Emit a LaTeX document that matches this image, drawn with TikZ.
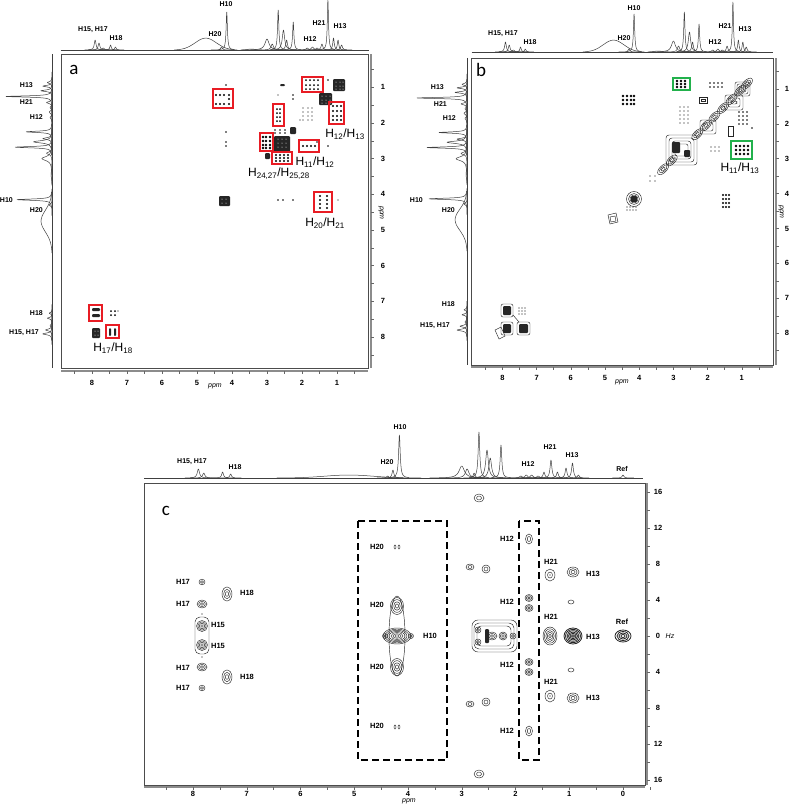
\documentclass[tikz,border=0pt]{standalone}
\usepackage{fontspec}
\setmainfont{Liberation Sans}
\newfontfamily\letterfont{Carlito}
\definecolor{boxred}{RGB}{232,28,36}
\definecolor{boxgreen}{RGB}{34,177,76}
\newcommand{\rings}[5]{\foreach \k in {1,...,#5}{\draw[cont] (#1,#2) ellipse ({#3*\k/#5} and {#4*\k/#5});}}
\newcommand{\dg}[3]{\foreach \xx in {#1}{\foreach \yy in {#2}{\fill (\xx,\yy) circle (#3);}}}
\newcommand{\wg}[3]{\foreach \xx in {#1}{\foreach \yy in {#2}{\fill[white] (\xx,\yy) circle (#3);}}}
\newcommand{\drings}[5]{\foreach \k in {1,...,#5}{\draw[cont,rotate around={45:(#1,#2)}] (#1,#2) ellipse ({#3*\k/#5} and {#4*\k/#5});}}
% one Lorentzian line, pointing up: x-centre, baseline y, half width (px), height (px)
\newcommand{\pkT}[4]{\draw[spec,shift={(#1,#2)},xscale=#3,yscale=-#4] plot[smooth,tension=0.4] coordinates {(-10,0.0099)(-6,0.027)(-4,0.0588)(-3,0.1)(-2.5,0.1379)(-2,0.2)(-1.5,0.3077)(-1.2,0.4098)(-1,0.5)(-0.8,0.6098)(-0.6,0.7353)(-0.4,0.8621)(-0.2,0.9615)(0,1)(0.2,0.9615)(0.4,0.8621)(0.6,0.7353)(0.8,0.6098)(1,0.5)(1.2,0.4098)(1.5,0.3077)(2,0.2)(2.5,0.1379)(3,0.1)(4,0.0588)(6,0.027)(10,0.0099)};}
% one Lorentzian line, pointing left: y-centre, baseline x, half width, height
\newcommand{\pkL}[4]{\draw[spec,shift={(#2,#1)},yscale=#3,xscale=-#4] plot[smooth,tension=0.4] coordinates {(0.0099,-10)(0.027,-6)(0.0588,-4)(0.1,-3)(0.1379,-2.5)(0.2,-2)(0.3077,-1.5)(0.4098,-1.2)(0.5,-1)(0.6098,-0.8)(0.7353,-0.6)(0.8621,-0.4)(0.9615,-0.2)(1,0)(0.9615,0.2)(0.8621,0.4)(0.7353,0.6)(0.6098,0.8)(0.5,1)(0.4098,1.2)(0.3077,1.5)(0.2,2)(0.1379,2.5)(0.1,3)(0.0588,4)(0.027,6)(0.0099,10)};}
\newcommand{\bellT}[4]{\draw[spec,shift={(#1,#2)},xscale=#3,yscale=-#4] plot[smooth] coordinates {(-3,0)(-2.5,0.044)(-2,0.135)(-1.5,0.325)(-1,0.607)(-0.5,0.882)(0,1)(0.5,0.882)(1,0.607)(1.5,0.325)(2,0.135)(2.5,0.044)(3,0)};}
\newcommand{\bellL}[4]{\draw[spec,shift={(#2,#1)},yscale=#3,xscale=-#4] plot[smooth] coordinates {(0,-3)(0.044,-2.5)(0.135,-2)(0.325,-1.5)(0.607,-1)(0.882,-0.5)(1,0)(0.882,0.5)(0.607,1)(0.325,1.5)(0.135,2)(0.044,2.5)(0,3)};}
\newcommand{\ablist}{7.91/10/0.03,7.80/7/0.03,7.68/2/0.04,7.47/5/0.025,7.33/3/0.025,4.30/3/0.03,4.15/38/0.022,3.0/11/0.07,2.85/6/0.04,2.68/40/0.022,2.53/20/0.04,2.44/10/0.03,2.25/28/0.022,1.85/2/0.04,1.70/3/0.04,1.57/2/0.04,1.43/6/0.03,1.26/50/0.02,1.10/12/0.025,0.97/10/0.025,0.87/5/0.03}
\newcommand{\specT}[5]{\draw[spec] ({#1-#2*#4},#3) -- ({#1-#2*#5},#3);
 \foreach \p/\h/\w in \ablist {\pkT{#1-#2*\p}{#3}{#2*\w}{\h}}
 \bellT{#1-#2*4.75}{#3}{#2*0.3}{12}
 \bellT{#1-#2*3.45}{#3}{#2*0.1}{1}}
\newcommand{\specL}[6]{\draw[spec] (#3,{#1+#2*#4}) -- (#3,{#1+#2*#5});
 \foreach \p/\h/\w in \ablist {\pkL{#1+#2*\p}{#3}{#2*\w}{#6*\h}}
 \bellL{#1+#2*4.75}{#3}{#2*0.3}{#6*12}
 \bellL{#1+#2*3.45}{#3}{#2*0.1}{#6*1}}
\begin{document}
\begin{tikzpicture}[x=1pt,y=-1pt,
 lab/.style={font=\bfseries\fontsize{7}{8}\selectfont, inner sep=0pt},
 clab/.style={font=\bfseries\fontsize{7.5}{9}\selectfont, inner sep=0pt},
 big/.style={font=\fontsize{12}{14}\selectfont, inner sep=0pt},
 tick/.style={font=\bfseries\fontsize{7.5}{9}\selectfont, inner sep=0pt},
 axlab/.style={font=\itshape\fontsize{7}{8}\selectfont, inner sep=0pt},
 letter/.style={font=\letterfont\fontsize{19}{22}\selectfont, inner sep=0pt},
 frame/.style={draw=black!70, line width=0.7pt},
 axis/.style={draw=black!45, line width=1.2pt},
 tk/.style={draw=black!60, line width=0.5pt},
 spec/.style={draw=black!75, line width=0.5pt, line join=round},
 cont/.style={draw=black!85, line width=0.45pt},
 redbox/.style={draw=boxred, line width=1.4pt},
 greenbox/.style={draw=boxgreen, line width=1.4pt},
 dbox/.style={draw=black, line width=1.4pt, dash pattern=on 7pt off 4pt},
 blob/.style={fill=black!85, rounded corners=1pt}
]
\fill[white] (0,0) rectangle (790,804);
\useasboundingbox (0,0) rectangle (790,804);

%%%%%%%%%%%%%%%% PANEL A %%%%%%%%%%%%%%%%
\draw[frame] (61,54) rectangle (368,368);
\draw[axis] (371,54) -- (371,368);
\draw[axis] (61,371) -- (368,371);
\foreach \k in {1,...,17}{\draw[tk] (371,{51.5+35.7*\k/2}) -- (374,{51.5+35.7*\k/2});}
\foreach \k in {1,...,17}{\draw[tk] ({372-35*\k/2},371) -- ({372-35*\k/2},374);}
\foreach \k in {1,...,8}{\node[tick] (ar\k) at (383,{51.5+35.7*\k}) {\k};}
\foreach \k in {1,...,8}{\node[tick] (ab\k) at ({372-35*\k},383) {\k};}
\node[axlab] (appmx) at (215,386) {ppm};
\node[axlab, rotate=-90] (appmy) at (381,213) {ppm};
\specT{372}{35}{50}{8.9}{0.1}
\specL{51.5}{35.7}{52}{0.07}{8.87}{0.92}
\node[letter] (la) at (74,70) {a};
\node[lab] (aT1) at (93,30) {H15, H17};
\node[lab] (aT2) at (116,38) {H18};
\node[lab] (aT3) at (215,34) {H20};
\node[lab] (aT4) at (226,4) {H10};
\node[lab] (aT5) at (310,39) {H12};
\node[lab] (aT6) at (319,23) {H21};
\node[lab] (aT7) at (340,26) {H13};
\node[lab, anchor=east] (aL1) at (33,85) {H13};
\node[lab, anchor=east] (aL2) at (33,102) {H21};
\node[lab, anchor=east] (aL3) at (43,117) {H12};
\node[lab, anchor=east] (aL4) at (13,200) {H10};
\node[lab, anchor=east] (aL5) at (43,210) {H20};
\node[lab, anchor=east] (aL6) at (43,313) {H18};
\node[lab, anchor=east] (aL7) at (39,333) {H15, H17};
% cross peaks a
\fill[blob] (333,79) rectangle (345,91);
\fill[blob] (319,93) rectangle (332,105);
\fill[blob] (274,136) rectangle (290,152);
\fill[blob] (290,127) rectangle (296,134);
\fill[blob] (219,196) rectangle (230,206);
\fill[blob] (92,328) rectangle (100,338);
\fill[blob] (265,153) rectangle (270,159);
\fill[blob] (280,84) rectangle (285,86);
\wg{336,340,343}{82,86,89}{0.5}
\wg{322,326,330}{96,100,103}{0.5}
\wg{278,282,286}{139,143,147}{0.5}
\wg{222,226}{199,203}{0.5}
\wg{95,98}{331,335}{0.5}
\dg{216,220,224,229}{95,104}{1.1}
\dg{229}{99}{1.1}
\dg{306,310,314,318}{80,85,89}{1.0}
\dg{333,337,341}{106,111,116,120}{1.1}
\dg{277,280}{109,113,117,121}{1.0}
\dg{263,266,270}{137,141,145,148}{1.3}
\dg{303,307,311,315}{146}{1.1}
\dg{317}{142}{0.8}
\dg{276,280,284,288}{155,158,161}{1.2}
\dg{320,327}{196,200,204,208}{1.2}
\dg{226}{85,132,142,146}{0.9}
\dg{293}{95,99}{0.9}
\dg{278}{95}{0.7}
\dg{278,283,293}{200}{0.9}
\dg{328}{80,146}{0.8}
\dg{338}{200}{0.7}
\dg{303,308,312}{108,112,116,120}{0.6}
\dg{300}{120}{0.7}
\dg{275,280,285}{130,133}{0.8}
\fill[blob] (92,308) rectangle (100,311);
\fill[blob] (92,314) rectangle (100,317);
\fill[blob] (109,328) rectangle (111,336);
\fill[blob] (114,328) rectangle (116,336);
\dg{111,115}{311,315}{1.0}
\dg{118}{311}{0.7}
% red boxes
\draw[redbox] (213,89) rectangle (233,108);
\draw[redbox] (302,77) rectangle (323,92);
\draw[redbox] (329,102) rectangle (344,124);
\draw[redbox] (273,104) rectangle (284,126);
\draw[redbox] (260,133) rectangle (273,151);
\draw[redbox] (299,140) rectangle (319,152);
\draw[redbox] (272,152) rectangle (292,164);
\draw[redbox] (314,192) rectangle (332,212);
\draw[redbox] (89,305) rectangle (102,321);
\draw[redbox] (106,325) rectangle (119,338);
\node[big] (bl1) at (345,134) {H\textsubscript{12}/H\textsubscript{13}};
\node[big] (bl2) at (315,162) {H\textsubscript{11}/H\textsubscript{12}};
\node[big] (bl3) at (279,174) {H\textsubscript{24,27}/H\textsubscript{25,28}};
\node[big] (bl4) at (325,223) {H\textsubscript{20}/H\textsubscript{21}};
\node[big] (bl5) at (113,348) {H\textsubscript{17}/H\textsubscript{18}};

%%%%%%%%%%%%%%%% PANEL B %%%%%%%%%%%%%%%%
\draw[frame] (471,58) rectangle (773,365);
\draw[axis] (776,58) -- (776,365);
\draw[axis] (471,367) -- (773,367);
\foreach \k in {1,...,17}{\draw[tk] (776,{54+34.9*\k/2}) -- (779,{54+34.9*\k/2});}
\foreach \k in {1,...,17}{\draw[tk] ({776-34.2*\k/2},367) -- ({776-34.2*\k/2},370);}
\foreach \k in {1,...,8}{\node[tick] (br\k) at (787,{54+34.9*\k}) {\k};}
\foreach \k in {1,...,8}{\node[tick] (bb\k) at ({776-34.2*\k},378) {\k};}
\node[axlab] (bppmx) at (622,382) {ppm};
\node[axlab, rotate=-90] (bppmy) at (781,212) {ppm};
\specT{776}{34.2}{52}{8.9}{0.1}
\specL{54}{34.9}{467}{0.11}{8.9}{1}
\node[letter] (lb) at (481,70) {b};
\node[lab] (bT1) at (503,34) {H15, H17};
\node[lab] (bT2) at (530,42) {H18};
\node[lab] (bT3) at (624,38) {H20};
\node[lab] (bT4) at (634,8) {H10};
\node[lab] (bT5) at (715,42) {H12};
\node[lab] (bT6) at (725,26) {H21};
\node[lab] (bT7) at (745,29) {H13};
\node[lab, anchor=east] (bL1) at (444,87) {H13};
\node[lab, anchor=east] (bL2) at (447,104) {H21};
\node[lab, anchor=east] (bL3) at (456,118) {H12};
\node[lab, anchor=east] (bL4) at (423,200) {H10};
\node[lab, anchor=east] (bL5) at (455,210) {H20};
\node[lab, anchor=east] (bL6) at (455,304) {H18};
\node[lab, anchor=east] (bL7) at (450,326) {H15, H17};
% diagonal contours b
\draw[cont] (608,215)--(616,213)--(618,222)--(610,224)--cycle;
\draw[cont] (610,217)--(615,216)--(616,221)--(611,222)--cycle;
\foreach \r in {2.5,4,5.5,7.5}{\draw[cont] (634,199) circle (\r);}
\fill[blob] (631,196) rectangle (637,202);
\dg{627,630,633,636}{207,210}{0.7}
\dg{650,655}{181,176}{0.7}
\foreach \p in {3.3,3.05,2.3,2.05,1.8,1.55,1.3,1.05,0.85}{\drings{776-34.2*\p}{54+34.9*\p}{7}{3.5}{3}}
\draw[cont, rounded corners=3pt] (666,135) rectangle (697,165);
\draw[cont, rounded corners=3pt] (669,138) rectangle (694,162);
\draw[cont, rounded corners=3pt] (672,141) rectangle (691,159);
\draw[cont, rounded corners=2pt] (675,144) rectangle (688,156);
\fill[blob] (672,142) rectangle (680,153);
\fill[blob] (684,150) rectangle (690,157);
\draw[cont, rounded corners=2pt] (700,120) rectangle (716,134);
\draw[cont, rounded corners=2pt] (703,123) rectangle (713,131);
\draw[cont, rounded corners=2pt] (735,82) rectangle (750,96);
\draw[cont, rounded corners=2pt] (737,84) rectangle (748,94);
\draw[cont, rounded corners=2pt] (739,86) rectangle (746,92);
\draw[cont, rounded corners=2pt] (725,95) rectangle (743,110);
\draw[cont, rounded corners=2pt] (728,98) rectangle (740,107);
\draw[cont, rounded corners=2pt] (731,101) rectangle (737,104);
\draw[cont] (699,97) rectangle (707,103);
\draw[cont] (701,99) rectangle (705,101);
\draw[cont] (728,126) rectangle (733,136);
\dg{623,627,631,634}{96,100,104}{1.3}
\dg{677,681,685}{81,84,87}{1.3}
\dg{736,740,744,748}{146,150,154}{1.3}
\dg{723,726,729}{195,199,203,207}{1.2}
\dg{711,715,719}{147,151}{0.7}
\dg{710,714,718,722}{83,87}{0.8}
\dg{680,684,688}{107,111,115,119,123}{0.7}
\dg{739,743,747}{112,116,120,124}{0.8}
\dg{690}{84}{0.7}
\dg{752}{128}{0.9}
\draw[cont, rounded corners=2pt] (501,304) rectangle (513,317);
\fill[blob] (503,306) rectangle (511,315);
\draw[cont, rounded corners=2pt] (501,322) rectangle (513,335);
\fill[blob] (503,324) rectangle (511,333);
\draw[cont, rounded corners=2pt] (517,322) rectangle (530,335);
\fill[blob] (519,324) rectangle (528,333);
\draw[cont] (495,330) -- (501,327) -- (505,336) -- (499,339) -- cycle;
\draw[cont] (513,315) -- (519,322);
\dg{519,522,525}{308,311,314}{0.7}
\draw[greenbox] (673,78) rectangle (690,90);
\draw[greenbox] (731,141) rectangle (752,159);
\node[big] (bl6) at (740,168) {H\textsubscript{11}/H\textsubscript{13}};

%%%%%%%%%%%%%%%% PANEL C %%%%%%%%%%%%%%%%
\draw[frame] (144,483) rectangle (645,785);
\draw[axis] (647,483) -- (647,785);
\draw[axis] (144,787) -- (645,787);
\foreach \v in {-16,-14,...,16}{\draw[tk] (647,{636-9*\v}) -- (650,{636-9*\v});}
\foreach \k in {-0.5,0,0.5,...,8.5}{\draw[tk] ({623-53.75*\k},787) -- ({623-53.75*\k},790);}
\foreach \v/\t in {16/16,12/12,8/8,4/4,0/0,-4/4,-8/8,-12/12,-16/16}{\node[tick] (cr\v) at (658,{636-9*\v}) {\t};}
\foreach \k in {0,...,8}{\node[tick] (cb\k) at ({623-53.75*\k},794) {\k};}
\node[axlab] (cppmx) at (409,801) {ppm};
\node[axlab] (chz) at (670,636) {Hz};
\draw[spec] (144,478) -- (643,478);
\foreach \p/\h/\w in {7.90/9/0.025,7.80/5/0.025,7.45/6/0.02,7.30/4/0.02,4.38/2/0.02,4.28/8/0.02,4.16/43/0.018,3.0/12/0.06,2.90/9/0.04,2.77/5/0.02,2.68/46/0.018,2.53/28/0.03,2.47/20/0.03,2.27/33/0.018,1.90/2/0.03,1.80/3/0.03,1.70/3/0.03,1.58/2/0.03,1.47/6/0.02,1.34/18/0.02,1.22/6/0.02,1.06/10/0.02,0.94/15/0.02,0.83/3/0.02,0.0/3/0.02}{\pkT{623-53.75*\p}{478}{53.75*\w}{\h}}
\bellT{623-53.75*5.1}{478}{53.75*0.45}{3}
\node[letter] (lc) at (166,511) {c};
\node[lab] (cT1) at (192,462) {H15, H17};
\node[lab] (cT2) at (235,467) {H18};
\node[lab] (cT3) at (387,462) {H20};
\node[lab] (cT4) at (400,427) {H10};
\node[lab] (cT5) at (528,464) {H12};
\node[lab] (cT6) at (550,447) {H21};
\node[lab] (cT7) at (572,455) {H13};
\node[lab] (cT8) at (622,469) {Ref};
\draw[dbox] (358,521) rectangle (447,760);
\draw[dbox] (519,521) rectangle (539,760);
\rings{202}{582}{3}{2.8}{2}
\rings{202}{604}{5}{4}{3}
\rings{202}{626}{5.5}{5.5}{4}
\rings{202}{645}{5.5}{5.5}{4}
\draw[cont, rounded corners=5pt] (195,617) rectangle (209,654);
\rings{202}{667}{5}{4}{3}
\rings{202}{688}{3}{2.8}{2}
\fill (202,614) circle (0.6);
\fill (202,657) circle (0.6);
\rings{227}{594}{5}{7}{3}
\rings{227}{677}{5}{7}{3}
\draw[cont] (395,547) ellipse (1 and 2);
\draw[cont] (399,547) ellipse (1 and 2);
\draw[cont] (395,727) ellipse (1 and 2);
\draw[cont] (399,727) ellipse (1 and 2);
\draw[cont] (397,636) ellipse (8 and 40);
\rings{397}{606}{6.5}{8.5}{4}
\rings{397}{667}{6.5}{8.5}{4}
\rings{397}{636}{14}{8}{7}
\rings{385}{636}{2.5}{2.5}{2}
\rings{411}{636}{2.5}{2.5}{2}
\rings{479}{498}{5}{4}{2}
\rings{479}{774}{5}{4}{2}
\rings{470}{567}{4}{3}{2}
\rings{486}{569}{4}{4}{2}
\rings{470}{704}{4}{3}{2}
\rings{486}{702}{4}{4}{2}
\draw[cont, rounded corners=6pt] (472,620) rectangle (517,652);
\draw[cont, rounded corners=5pt] (474,623) rectangle (514,649);
\draw[cont, rounded corners=4pt] (477,626) rectangle (511,646);
\rings{478}{630}{3}{3}{2}
\rings{478}{642}{3}{3}{2}
\rings{492}{636}{5}{4}{3}
\rings{503}{636}{4}{4}{3}
\rings{513}{636}{3}{3}{2}
\fill[blob] (485,629) rectangle (489,643);
\rings{529}{539}{3.5}{5}{2}
\rings{529}{598}{4}{3.5}{3}
\rings{529}{608}{4}{3.5}{3}
\rings{529}{662}{4}{3.5}{3}
\rings{529}{672}{4}{3.5}{3}
\rings{529}{731}{3.5}{5}{2}
\rings{550}{575}{5}{6}{2}
\fill (550,575) circle (0.6);
\rings{550}{636}{7}{9}{5}
\rings{550}{696}{5}{6}{2}
\fill (550,696) circle (0.6);
\rings{573}{572}{6}{5}{3}
\begin{scope}[cont/.append style={line width=0.8pt}]
\rings{573}{636}{9}{8}{6}
\rings{623}{636}{8}{6}{4}
\end{scope}
\rings{573}{698}{6}{5}{3}
\rings{571}{602}{3}{2}{1}
\rings{571}{670}{3}{2}{1}
\node[clab] (c17a) at (183,582) {H17};
\node[clab] (c17b) at (183,604) {H17};
\node[clab] (c17c) at (183,668) {H17};
\node[clab] (c17d) at (183,688) {H17};
\node[clab] (c18a) at (247,593) {H18};
\node[clab] (c18b) at (247,677) {H18};
\node[clab] (c15a) at (218,625) {H15};
\node[clab] (c15b) at (218,646) {H15};
\node[clab] (c20a) at (377,547) {H20};
\node[clab] (c20b) at (377,605) {H20};
\node[clab] (c20c) at (377,667) {H20};
\node[clab] (c20d) at (377,726) {H20};
\node[clab] (c10) at (430,636) {H10};
\node[clab] (c12a) at (507,539) {H12};
\node[clab] (c12b) at (507,602) {H12};
\node[clab] (c12c) at (507,665) {H12};
\node[clab] (c12d) at (507,731) {H12};
\node[clab] (c21a) at (551,562) {H21};
\node[clab] (c21b) at (551,617) {H21};
\node[clab] (c21c) at (551,682) {H21};
\node[clab] (c13a) at (593,574) {H13};
\node[clab] (c13b) at (593,637) {H13};
\node[clab] (c13c) at (593,698) {H13};
\node[clab] (cref) at (622,622) {Ref};
\end{tikzpicture}
\end{document}
